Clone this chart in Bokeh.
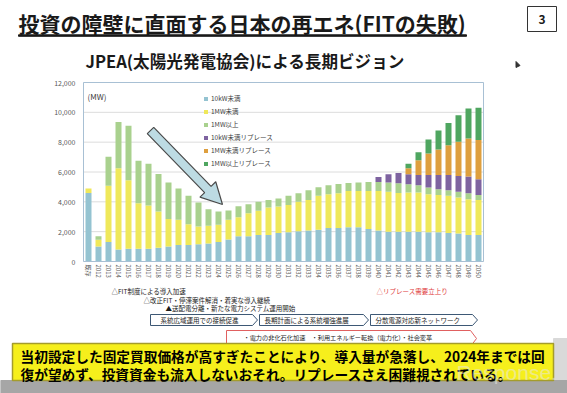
import math
from bokeh.plotting import figure
from bokeh.models import ColumnDataSource, Range1d
from bokeh.core.properties import value
from bokeh.embed import file_html
from bokeh.resources import INLINE

# ---------------- data ----------------
categories = ["既存", "2012", "2013", "2014", "2015", "2016", "2017", "2018", "2019",
              "2020", "2021", "2022", "2023", "2024", "2025", "2026", "2027", "2028",
              "2029", "2030", "2031", "2032", "2033", "2034", "2035", "2036", "2037",
              "2038", "2039", "2040", "2041", "2042", "2043", "2044", "2045", "2046",
              "2047", "2048", "2049", "2050"]

under_10kw = [4600, 1000, 1300, 800, 850, 850, 850, 930, 1000, 1100, 1100, 1150, 1200,
              1300, 1470, 1690, 1690, 1780, 1780, 1910, 1960, 2020, 2070, 2130, 2250,
              2250, 2290, 2290, 2180, 2070, 2000, 2000, 2000, 2000, 1960, 1960, 1910,
              1870, 1780, 1780]
under_1mw = [300, 450, 3770, 5450, 4600, 3050, 2900, 2430, 1850, 1700, 1400, 1200, 1200,
             1170, 1330, 1270, 1550, 1620, 1840, 1780, 1820, 1980, 2060, 2270, 2260,
             2330, 2440, 2440, 2550, 2660, 2670, 2600, 2620, 2620, 2550, 2490, 2490,
             2420, 2400, 2350]
over_1mw = [0, 250, 1950, 3100, 3650, 2850, 2800, 2500, 2450, 2100, 1900, 1600, 1100,
            880, 620, 740, 600, 600, 510, 530, 620, 580, 650, 580, 600, 620, 530, 560,
            600, 600, 620, 640, 560, 490, 450, 400, 380, 380, 400, 320]
under_10kw_rep = [0, 0, 0, 0, 0, 0, 0, 0, 0, 0, 0, 0, 0, 0, 0, 0, 0, 0, 0, 0, 0, 0, 0,
                  0, 0, 0, 0, 0, 0, 340, 560, 690, 670, 690, 840, 950, 1020, 1060, 1110, 1060]
under_1mw_rep = [0, 0, 0, 0, 0, 0, 0, 0, 0, 0, 0, 0, 0, 0, 0, 0, 0, 0, 0, 0, 0, 0, 0,
                 0, 0, 0, 0, 0, 0, 0, 0, 0, 400, 980, 1440, 1710, 2000, 2290, 2560, 2640]
over_1mw_rep = [0, 0, 0, 0, 0, 0, 0, 0, 0, 0, 0, 0, 0, 0, 0, 0, 0, 0, 0, 0, 0, 0, 0,
                0, 0, 0, 0, 0, 0, 0, 0, 0, 310, 550, 940, 1270, 1490, 1780, 2000, 2160]

series_labels = ["10kW未満", "1MW未満", "1MW以上", "10kW未満リプレース",
                 "1MW未満リプレース", "1MW以上リプレース"]
series_colors = ["#94c3d1", "#efe85a", "#a9d18e", "#7e63a0", "#de9f3e", "#4fa660"]
y_ticks = [0, 2000, 4000, 6000, 8000, 10000, 12000]
y_tick_labels = ["0", "2,000", "4,000", "6,000", "8,000", "10,000", "12,000"]

FONT = "Noto Sans CJK JP"
W, H = 567, 393
# plot area on the page (pixels): left, right, top(=12000), bottom(=0)
PA_L, PA_R, PA_T, PA_B = 83, 483, 82, 261
Y_MAX = 12000
mw_per_px = Y_MAX / (PA_B - PA_T)
n_cat = len(categories)
px_per_cat = (PA_R - PA_L) / n_cat
cat_pos = list(range(n_cat))

p = figure(width=W, height=H, output_backend="svg", toolbar_location=None,
           x_range=Range1d(-0.5 - PA_L / px_per_cat, n_cat - 0.5 + (W - PA_R) / px_per_cat),
           y_range=Range1d(-(H - PA_B) * mw_per_px, Y_MAX + PA_T * mw_per_px),
           x_axis_type=None, y_axis_type=None, min_border=0)
p.extra_x_ranges = {"page": Range1d(0, W)}
p.extra_y_ranges = {"page": Range1d(H, 0)}
p.outline_line_color = None
p.background_fill_color = "white"
p.border_fill_color = "white"
PG = dict(x_range_name="page", y_range_name="page")


def txt(s, x, y, size, color="#1a1a1a", bold=False, align="left", font=FONT, alpha=1.0):
    p.text(x=[x], y=[y], text=[s], text_font=value(font), text_font_size=size,
           text_color=color, text_font_style="bold" if bold else "normal",
           text_align=align, text_baseline="middle", text_alpha=alpha, **PG)


# ---------------- header ----------------
txt("投資の障壁に直面する日本の再エネ(FITの失敗)", 18, 22, "21px", bold=True)
p.quad(left=[18], right=[466], top=[34.3], bottom=[35.8], color="#1a1a1a", **PG)
p.quad(left=[527], right=[556], top=[6], bottom=[31], fill_color="white",
       line_color="#333333", line_width=1, **PG)
txt("3", 541.5, 18.5, "12px", bold=True, align="center")
txt("JPEA(太陽光発電協会)による長期ビジョン", 85, 60, "16.6px", bold=True)
# small mouse pointer seen on the slide
p.patch(x=[515.5, 515.5, 519.5], y=[61, 67, 65], color="#333333", **PG)

# ---------------- chart ----------------
p.segment(x0=[-0.5] * len(y_ticks), x1=[n_cat - 0.5] * len(y_ticks), y0=y_ticks,
          y1=y_ticks, line_color="#dcdcdc", line_width=1)
p.text(x=[PA_L - 8] * len(y_ticks), y=y_ticks, text=y_tick_labels,
       text_font=value(FONT), text_font_size="7px", text_color="#595959",
       text_align="right", text_baseline="middle", x_range_name="page")

keys = ["s0", "s1", "s2", "s3", "s4", "s5"]
src = ColumnDataSource(dict(pos=cat_pos, s0=under_10kw, s1=under_1mw, s2=over_1mw,
                            s3=under_10kw_rep, s4=under_1mw_rep, s5=over_1mw_rep))
p.vbar_stack(keys, x="pos", width=0.6, color=series_colors, source=src,
             legend_label=series_labels, line_width=0)

p.quad(left=[-0.5], right=[n_cat - 0.5], bottom=[0], top=[Y_MAX], fill_color=None,
       line_color="#a8c0d4", line_width=1)

p.text(x=cat_pos, y=[PA_B + 3] * n_cat, text=categories, text_font=value(FONT),
       text_font_size="6px", text_color="#595959", angle=-math.pi / 2,
       text_align="left", text_baseline="middle", y_range_name="page")

txt("(MW)", 87, 96, "8px", color="#404040")

lg = p.legend[0]
lg.location = (203, 225)
lg.background_fill_alpha = 0
lg.border_line_color = None
lg.label_text_font = FONT
lg.label_text_font_size = "6.5px"
lg.label_text_color = "#404040"
lg.glyph_width = 5
lg.glyph_height = 5
lg.label_height = 10
lg.spacing = 3
lg.padding = 0
lg.margin = 0
lg.label_standoff = 3

# big downward arrow
tx, ty, hx, hy = 150, 130, 222, 204
L = math.hypot(hx - tx, hy - ty)
ux, uy = (hx - tx) / L, (hy - ty) / L
nx, ny = -uy, ux
bx, by = hx - 21 * ux, hy - 21 * uy
sw, hw = 4.5, 11
arrow = [(tx + sw * nx, ty + sw * ny), (bx + sw * nx, by + sw * ny),
         (bx + hw * nx, by + hw * ny), (hx, hy), (bx - hw * nx, by - hw * ny),
         (bx - sw * nx, by - sw * ny), (tx - sw * nx, ty - sw * ny)]
p.patch(x=[a for a, b in arrow], y=[b for a, b in arrow], fill_color="#bddbe3",
        line_color="#4a4a4a", line_width=1.2, **PG)

# ---------------- footer ----------------
txt("△FIT制度による導入加速", 111, 290, "6.5px")
txt("△改正FIT・停滞案件解消・着実な導入継続", 143, 299, "6.5px")
txt("▲送配電分離・新たな電力システム運用開始", 165, 307.5, "6.5px")
txt("△リプレース需要立上り", 376, 290, "6.5px", color="#e03c3c")


def pentagon(x0, x1, y0, y1, tip, line):
    ym = (y0 + y1) / 2
    p.patch(x=[x0, x1 - tip, x1, x1 - tip, x0], y=[y0, y0, ym, y1, y1],
            fill_color="white", line_color=line, line_width=1, **PG)


pentagon(150, 257, 314, 325, 5, "#3d5875")
txt("系統広域運用での接続促進", 160, 319.5, "6.5px")
pentagon(259, 368, 314, 325, 5, "#3d5875")
txt("長期計画による系統増強進展", 264, 319.5, "6.5px")
pentagon(370, 477, 314, 325, 5, "#3d5875")
txt("分散電源対応新ネットワーク", 375, 319.5, "6.5px")
pentagon(226, 476, 330, 346, 6, "#e06060")
txt("・電力の非化石化加速　・利用エネルギー転換（電力化）・社会変革", 243, 336.5, "6.2px")

p.quad(left=[553], right=[W], top=[338], bottom=[H], color="#d9d9d9", **PG)
p.quad(left=[0], right=[W], top=[380], bottom=[H], color="#a6a6a6", **PG)
p.quad(left=[12], right=[553], top=[343], bottom=[380], fill_color="#f6ef1c",
       line_color="#a49c2c", line_width=1.5, **PG)
txt("当初設定した固定買取価格が高すぎたことにより、導入量が急落し、2024年までは回",
    20, 355, "13.7px", color="black", bold=True)
txt("復が望めず、投資資金も流入しないおそれ。リプレースさえ困難視されている。",
    20, 373, "13.7px", color="black", bold=True)
txt("Response.", 456, 372, "21px", color="#e6e6e6", font="Liberation Sans", alpha=0.55)

with open("out.html", "w") as fh:
    fh.write(file_html(p, INLINE))
